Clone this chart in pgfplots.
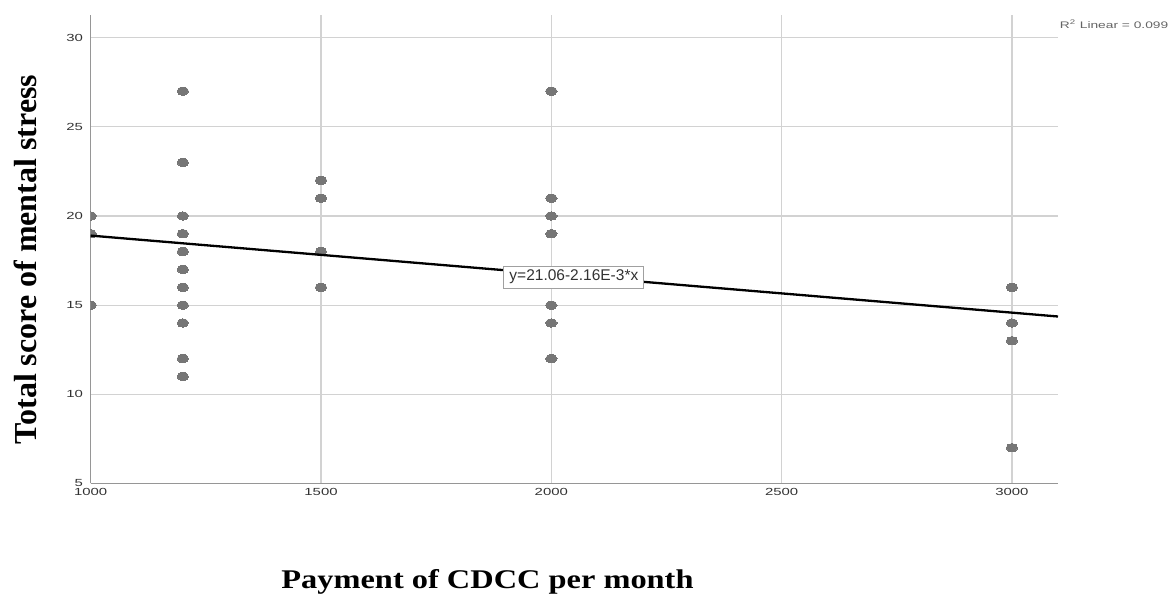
\documentclass[border=0pt]{standalone}
\usepackage{fontspec}
\setmainfont{Liberation Serif}
\newfontfamily\arial{Liberation Sans}
\usepackage{pgfplots}
\pgfplotsset{compat=1.18}
\definecolor{markgray}{RGB}{118,118,118}
\definecolor{gridgray}{RGB}{210,210,210}
\definecolor{axisgray}{RGB}{150,150,150}
\definecolor{tickgray}{RGB}{50,50,50}
\definecolor{rgray}{RGB}{100,100,100}
\definecolor{boxgray}{RGB}{160,160,160}
\begin{document}
\begin{tikzpicture}
\begin{axis}[
  scale only axis,
  width=967.3pt, height=468.5pt,
  xmin=1000, xmax=3100, ymin=5, ymax=31.27,
  xtick={1000,1500,2000,2500,3000},
  ytick={5,10,15,20,25,30},
  axis x line=bottom, axis y line=left,
  axis line style={-, color=axisgray, line width=1.6pt},
  grid=major,
  major grid style={color=gridgray, line width=1.2pt},
  major tick length=0pt,
  scaled ticks=false,
  /pgf/number format/1000 sep={},
  /pgf/number format/assume math mode=true,
  yticklabel style={anchor=east, inner sep=0pt, xshift=-7.5pt, xscale=1.45, text=tickgray, font=\arial\fontsize{10.3}{12}\selectfont},
  xticklabel style={anchor=north, inner sep=0pt, yshift=-4.5pt, xscale=1.45, text=tickgray, font=\arial\fontsize{10.3}{12}\selectfont},
  clip marker paths=true,
]
\addplot[only marks, color=markgray, mark=*, mark size=4.1pt, mark options={xscale=1.4, fill=markgray, draw=markgray, line width=0pt}] coordinates {
 (1000,20) (1000,19) (1000,15)
 (1200,27) (1200,23) (1200,20) (1200,19) (1200,18) (1200,17) (1200,16) (1200,15) (1200,14) (1200,12) (1200,11)
 (1500,22) (1500,21) (1500,18) (1500,16)
 (2000,27) (2000,21) (2000,20) (2000,19) (2000,15) (2000,14) (2000,12)
 (3000,16) (3000,14) (3000,13) (3000,7)
};
\addplot[black, line width=2.3pt] coordinates {(1000,18.90) (3100,14.364)};
\node[draw=boxgray, line width=1pt, fill=white, inner xsep=5.5pt, inner ysep=4pt, text=tickgray, font=\arial\fontsize{15.5}{18}\selectfont] at (axis cs:2049,16.57) {y=21.06-2.16E-3*x};
\end{axis}
\node[anchor=base, xscale=1.2, font=\bfseries\fontsize{27}{32}\selectfont] at (396.8pt,-105.5pt) {Payment of CDCC per month};
\node[rotate=90, anchor=base, font=\bfseries\fontsize{32}{38}\selectfont] at (-54pt,224pt) {Total score of mental stress};
\node[anchor=west, inner sep=0pt, xscale=1.45, text=rgray, font=\arial\fontsize{9.5}{11}\selectfont] at (969pt,459.5pt) {R\textsuperscript{2} Linear = 0.099};
\pgfresetboundingbox
\path[use as bounding box] (-90.7pt,-110.5pt) rectangle (1080.3pt,483.5pt);
\end{tikzpicture}
\end{document}
